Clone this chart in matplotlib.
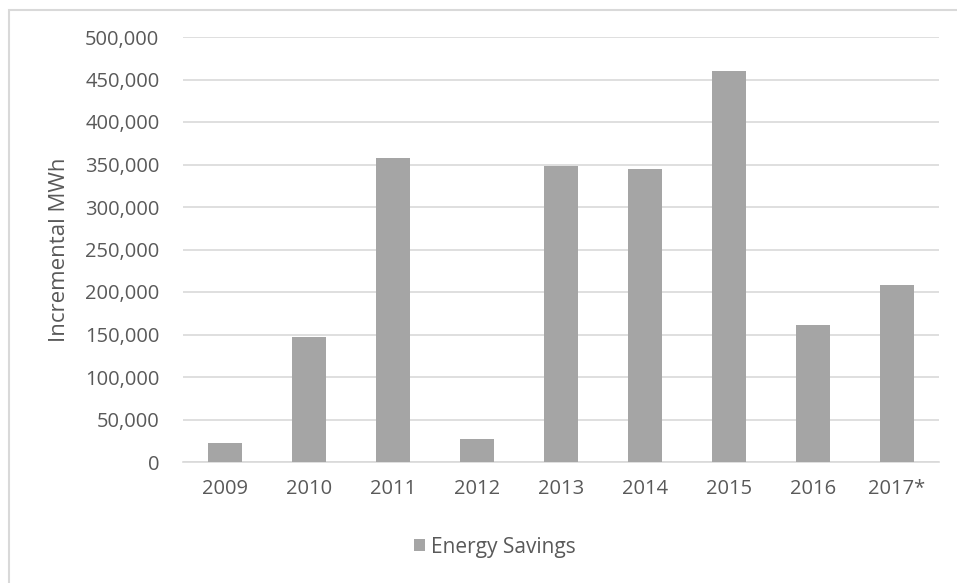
import matplotlib
matplotlib.use("Agg")
import matplotlib.pyplot as plt
from matplotlib.patches import Rectangle, Patch
from matplotlib.ticker import FuncFormatter, MultipleLocator

categories = ["2009", "2010", "2011", "2012", "2013", "2014", "2015", "2016", "2017*"]
energy_savings = [22000, 147000, 358000, 27000, 348000, 345000, 460000, 161000, 208000]

plt.rcParams['font.family'] = ['Open Sans', 'DejaVu Sans']

W, H = 957, 583
fig = plt.figure(figsize=(W / 100, H / 100), dpi=100)
fig.patch.set_facecolor("white")

# outer border (only top and left visible in the reference)
fig.add_artist(Rectangle((8.5 / W, -0.1), 1.2, 1 - 10 / H + 0.1,
                         transform=fig.transFigure, fill=False,
                         edgecolor="#d9d9d9", linewidth=1.5))

ax = fig.add_axes([183 / W, 1 - 462 / H, (939 - 183) / W, (462 - 37) / H])
x = list(range(len(categories)))
ax.bar(x, energy_savings, width=0.405, color="#a5a5a5", zorder=3)

ax.set_xlim(-0.5, len(categories) - 0.5)
ax.set_ylim(0, 500000)
ax.yaxis.set_major_locator(MultipleLocator(50000))
ax.yaxis.set_major_formatter(FuncFormatter(lambda v, p: f"{int(v):,}"))
ax.set_xticks(x)
ax.set_xticklabels(categories)
ax.grid(axis="y", color="#d9d9d9", linewidth=1.2, zorder=0)
for s in ["top", "right", "left"]:
    ax.spines[s].set_visible(False)
ax.spines["bottom"].set_color("#d9d9d9")
ax.spines["bottom"].set_linewidth(1.2)
ax.tick_params(axis="both", length=0, colors="#595959", labelsize=14.5)
ax.tick_params(axis="y", pad=17)
ax.tick_params(axis="x", pad=12)

ax.set_ylabel("Incremental MWh", color="#595959", fontsize=16)
ax.yaxis.set_label_coords(-(183 - 70) / (939 - 183), 0.5)

handles = [Patch(facecolor="#a5a5a5", label="Energy Savings")]
fig.legend(handles=handles, loc="center", bbox_to_anchor=(495 / W, 1 - 547 / H),
           frameon=False, fontsize=15, labelcolor="#595959",
           handlelength=0.55, handleheight=0.55, handletextpad=0.3)

fig.savefig("out.png", dpi=100)
